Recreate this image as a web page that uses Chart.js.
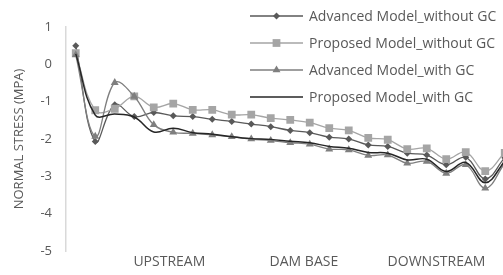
<!DOCTYPE html>
<html lang="en">
<head>
  <meta charset="UTF-8">
  <title>Normal stress along the dam base</title>
  <script src="https://cdn.jsdelivr.net/npm/chart.js"></script>
  <style>
    html, body {
      margin: 0;
      padding: 0;
      background: white;
      overflow: hidden;
    }
    #wrap {
      width: 520px;
      height: 275px;
    }
  </style>
</head>
<body>
  <div id="wrap"><canvas id="stressChart" width="520" height="275"></canvas></div>
  <script>
    // category labels along the base and where they sit (in point index units)
    const xLabels = ['UPSTREAM', 'DAM BASE', 'DOWNSTREAM'];
    const xLabelPos = [4.8, 11.7, 18.5];
    const yTicks = [1, 0, -1, -2, -3, -4, -5];

    // normal stress (MPa)
    const advancedNoGC = [0.5, -2.07, -1.08, -1.4, -1.29, -1.38, -1.4, -1.47, -1.53, -1.6, -1.67, -1.77, -1.83, -1.95, -2.0, -2.16, -2.2, -2.38, -2.43, -2.69, -2.49, -3.07, -2.5];
    const proposedNoGC = [0.3, -1.23, -1.19, -0.86, -1.15, -1.05, -1.22, -1.22, -1.35, -1.35, -1.44, -1.49, -1.56, -1.71, -1.77, -1.97, -2.02, -2.27, -2.25, -2.54, -2.35, -2.86, -2.37];
    const advancedGC = [0.25, -1.93, -0.49, -0.86, -1.62, -1.82, -1.85, -1.89, -1.94, -2.0, -2.04, -2.1, -2.14, -2.27, -2.29, -2.44, -2.43, -2.65, -2.6, -2.92, -2.69, -3.32, -2.65];
    const proposedGC = [0.28, -1.36, -1.33, -1.41, -1.81, -1.71, -1.83, -1.87, -1.94, -1.99, -2.01, -2.06, -2.1, -2.2, -2.25, -2.36, -2.38, -2.56, -2.54, -2.87, -2.63, -3.17, -2.6];

    const textColor = '#595959';
    const fontFamily = '"Open Sans", "Liberation Sans", sans-serif';

    function toPoints(values) {
      return values.map((v, i) => ({ x: i, y: v }));
    }

    function drawMarker(ctx, style, r, x, y) {
      ctx.beginPath();
      if (style === 'rectRot') {
        ctx.moveTo(x, y - r); ctx.lineTo(x + r, y); ctx.lineTo(x, y + r); ctx.lineTo(x - r, y);
      } else if (style === 'rect') {
        const s = r * Math.SQRT1_2;
        ctx.rect(x - s, y - s, 2 * s, 2 * s);
      } else if (style === 'triangle') {
        ctx.moveTo(x, y - r);
        ctx.lineTo(x + r * 0.866, y + r * 0.5);
        ctx.lineTo(x - r * 0.866, y + r * 0.5);
      }
      ctx.closePath();
      ctx.fill();
    }

    // legend sits over the top right of the plot, one entry per row
    const legendBox = {
      id: 'legendBox',
      afterDraw(chart) {
        const ctx = chart.ctx;
        const x0 = 250, y0 = 16, rowH = 27;
        ctx.save();
        ctx.font = '14px ' + fontFamily;
        ctx.textBaseline = 'middle';
        chart.data.datasets.forEach((ds, i) => {
          const y = y0 + i * rowH;
          ctx.strokeStyle = ds.borderColor;
          ctx.lineWidth = ds.borderWidth;
          ctx.beginPath();
          ctx.moveTo(x0, y);
          ctx.lineTo(x0 + 53, y);
          ctx.stroke();
          if (ds.pointRadius > 0) {
            ctx.fillStyle = ds.pointBackgroundColor;
            drawMarker(ctx, ds.pointStyle, ds.pointRadius, x0 + 26.5, y);
          }
          ctx.fillStyle = textColor;
          ctx.fillText(ds.label, x0 + 59, y + 1);
        });
        ctx.restore();
      }
    };

    const ctx = document.getElementById('stressChart').getContext('2d');
    new Chart(ctx, {
      type: 'line',
      data: {
        datasets: [
          { label: 'Advanced Model_without GC', data: toPoints(advancedNoGC), borderColor: '#595959', borderWidth: 1.3,
            pointStyle: 'rectRot', pointRadius: 3.5, pointBackgroundColor: '#595959', pointBorderWidth: 0, tension: 0.4, order: 3 },
          { label: 'Proposed Model_without GC', data: toPoints(proposedNoGC), borderColor: '#a5a5a5', borderWidth: 1.3,
            pointStyle: 'rect', pointRadius: 5.5, pointBackgroundColor: '#a5a5a5', pointBorderWidth: 0, tension: 0.4, order: 2 },
          { label: 'Advanced Model_with GC', data: toPoints(advancedGC), borderColor: '#7f7f7f', borderWidth: 1.3,
            pointStyle: 'triangle', pointRadius: 4.6, pointBackgroundColor: '#7f7f7f', pointBorderWidth: 0, tension: 0.4, order: 1 },
          { label: 'Proposed Model_with GC', data: toPoints(proposedGC), borderColor: '#262626', borderWidth: 1.5,
            pointRadius: 0, tension: 0.4, order: 0 }
        ]
      },
      options: {
        responsive: false,
        animation: false,
        layout: { padding: { left: 0, top: 27, right: 5, bottom: 0 } },
        plugins: {
          legend: { display: false },
          tooltip: { enabled: false }
        },
        scales: {
          x: {
            type: 'linear',
            min: -0.5,
            max: 22.5,
            afterBuildTicks: s => { s.ticks = xLabelPos.map(v => ({ value: v })); },
            afterFit: s => { s.height = 24; },
            grid: { display: false, drawTicks: false },
            border: { display: false },
            ticks: {
              callback: (v, i) => xLabels[i],
              autoSkip: false,
              maxRotation: 0,
              padding: 3,
              color: textColor,
              font: { family: fontFamily, size: 14 }
            }
          },
          y: {
            min: -5,
            max: 1,
            afterBuildTicks: s => { s.ticks = yTicks.map(v => ({ value: v })); },
            afterFit: s => { s.width = 66; },
            grid: { display: false, drawTicks: false },
            border: { display: true, color: '#d9d9d9', width: 1.5 },
            ticks: {
              padding: 14,
              color: textColor,
              font: { family: fontFamily, size: 13 }
            },
            title: {
              display: true,
              text: 'NORMAL STRESS (MPA)',
              color: textColor,
              font: { family: fontFamily, size: 13 },
              padding: { top: 11, bottom: 0 }
            }
          }
        }
      },
      plugins: [legendBox]
    });
  </script>
</body>
</html>
